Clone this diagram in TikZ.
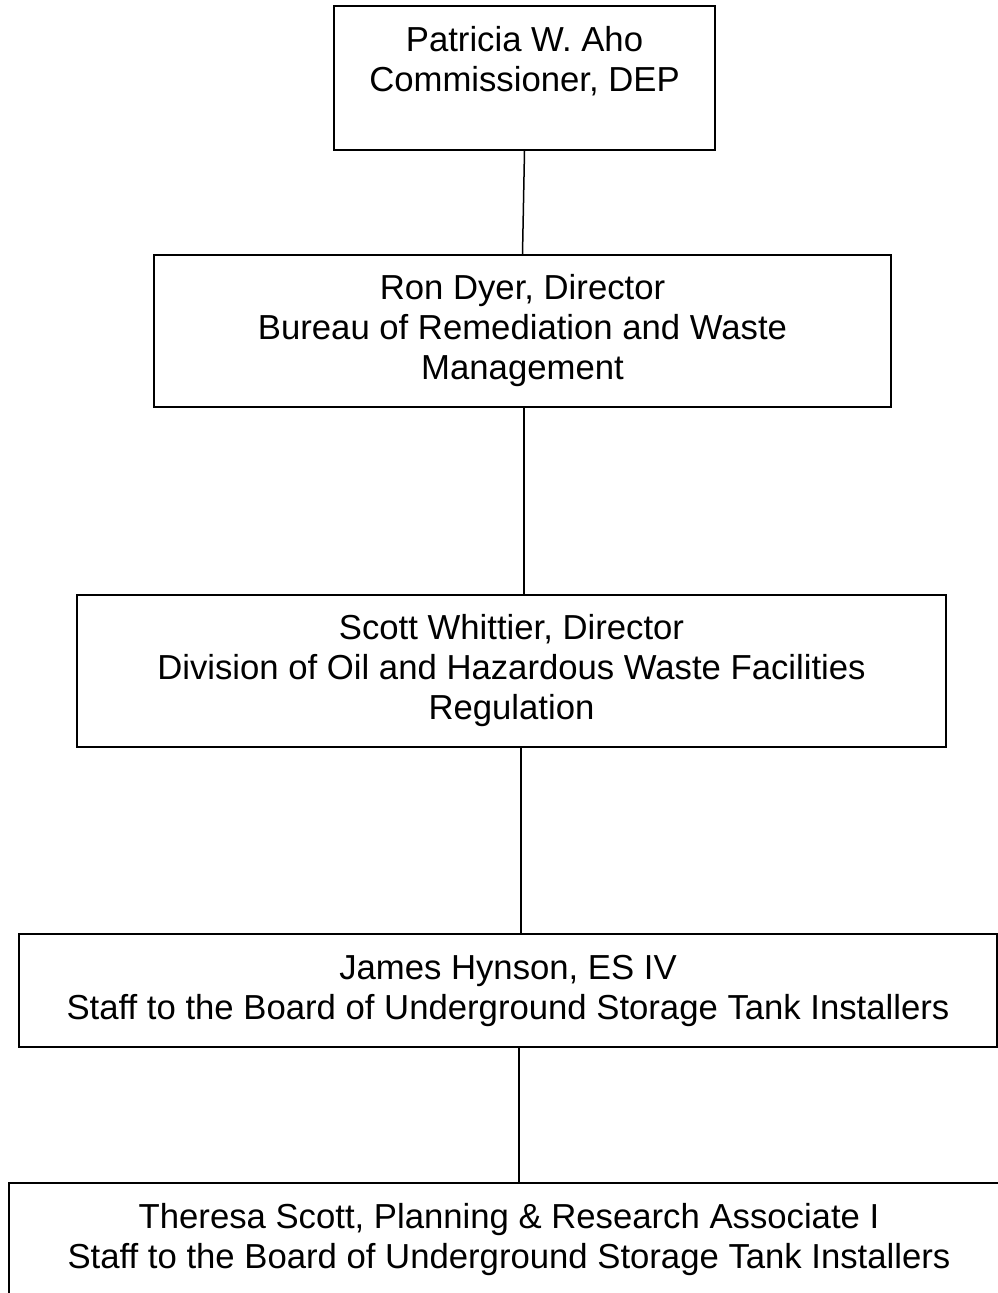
\documentclass[tikz,border=0pt]{standalone}
\usepackage{fontspec}
\setmainfont{Liberation Sans}

\begin{document}
\begin{tikzpicture}[x=1pt, y=-1pt,
   post/.style={draw, line width=1.5pt, align=center, inner sep=0pt,
     font=\fontsize{34.7}{40}\selectfont},
   edge/.style={line width=1.5pt}]
\useasboundingbox (0,0) rectangle (998,1293);
\node[post, minimum width=381, minimum height=144] (aho) at (524.5,78)
  {Patricia W. Aho\\Commissioner, DEP\\[-13pt] \strut};
\node[post, minimum width=737, minimum height=152] (dyer) at (522.5,331)
  {Ron Dyer, Director\\Bureau of Remediation and Waste\\Management};
\node[post, minimum width=869, minimum height=152] (whittier) at (511.5,671)
  {Scott Whittier, Director\\Division of Oil and Hazardous Waste Facilities\\Regulation};
\node[post, minimum width=978, minimum height=113] (hynson) at (508,990.5)
  {James Hynson, ES IV\\Staff to the Board of Underground Storage Tank Installers};
\node[post, minimum width=1000, minimum height=144] (scott) at (509,1255)
  {Theresa Scott, Planning \& Research Associate I\\Staff to the Board of Underground Storage Tank Installers\\[-13pt] \strut};
% reporting lines
\draw[edge] (aho.south) -- (dyer.north);
\draw[edge] ([xshift=1.5]dyer.south) -- ([xshift=12.5]whittier.north);
\draw[edge] ([xshift=9.5]whittier.south) -- ([xshift=13]hynson.north);
\draw[edge] ([xshift=11]hynson.south) -- ([xshift=10]scott.north);
\end{tikzpicture}
\end{document}
